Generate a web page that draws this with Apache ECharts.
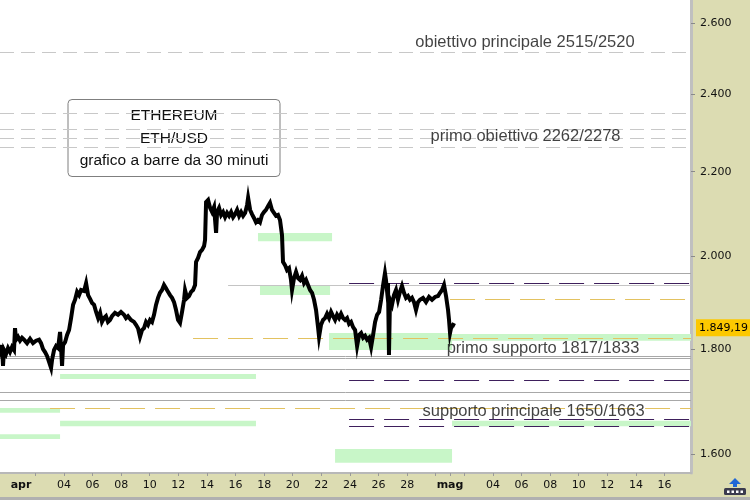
<!DOCTYPE html>
<html><head><meta charset="utf-8">
<script src="https://cdn.jsdelivr.net/npm/echarts@6/dist/echarts.min.js"></script>
<style>html,body{margin:0;padding:0;background:#fff}#c{width:750px;height:500px}</style>
</head><body><div id="c"></div>
<script>
// ---- data (days: 1 = 1 April, 31 = 1 May; prices in USD) ----
const priceDays = [
-0.47,-0.40,-0.33,-0.26,-0.19,-0.05,0.09,0.23,0.37,0.51,
0.58,0.65,0.79,0.93,1.07,1.21,1.42,1.63,1.84,2.05,
2.26,2.40,2.54,2.68,2.82,2.96,3.10,3.17,3.31,3.45,
3.59,3.73,3.80,3.87,3.94,4.08,4.22,4.36,4.50,4.64,
4.78,4.92,5.06,5.20,5.41,5.55,5.69,5.83,5.97,6.11,
6.25,6.39,6.53,6.66,6.80,6.94,7.08,7.22,7.36,7.57,
7.78,7.99,8.20,8.34,8.48,8.69,8.90,9.04,9.18,9.32,
9.46,9.60,9.74,9.88,10.02,10.16,10.30,10.44,10.58,10.72,
10.86,11.00,11.14,11.28,11.42,11.56,11.70,11.84,11.98,12.12,
12.26,12.40,12.47,12.61,12.75,12.89,13.03,13.17,13.24,13.38,
13.52,13.66,13.80,13.87,13.94,14.08,14.22,14.36,14.50,14.64,
14.71,14.85,14.99,15.13,15.27,15.41,15.55,15.69,15.83,15.97,
16.11,16.25,16.39,16.53,16.67,16.81,16.88,17.02,17.15,17.29,
17.43,17.57,17.71,17.85,17.99,18.13,18.27,18.41,18.55,18.69,
18.83,18.97,19.11,19.25,19.32,19.46,19.60,19.74,19.88,19.95,
20.09,20.23,20.37,20.51,20.65,20.79,20.93,21.07,21.21,21.35,
21.49,21.63,21.77,21.84,21.98,22.12,22.26,22.40,22.54,22.68,
22.82,22.96,23.10,23.24,23.38,23.52,23.66,23.80,23.94,24.08,
24.22,24.36,24.50,24.64,24.78,24.92,25.06,25.20,25.34,25.48,
25.62,25.76,25.90,26.04,26.18,26.32,26.45,26.52,26.59,26.66,
26.73,26.80,26.94,27.08,27.22,27.36,27.50,27.64,27.78,27.92,
28.06,28.20,28.34,28.48,28.62,28.76,28.90,29.11,29.32,29.53,
29.74,29.95,30.16,30.30,30.44,30.58,30.72,30.86,30.93,31.00,
31.07,31.21,31.35];
const priceValues = [
1803,1795,1809,1767,1799,1791,1803,1795,1805,1799,
1844,1820,1826,1818,1824,1820,1813,1822,1813,1818,
1820,1813,1801,1795,1787,1775,1763,1779,1799,1807,
1803,1836,1803,1767,1809,1815,1830,1840,1865,1893,
1904,1921,1914,1925,1923,1940,1914,1906,1897,1893,
1878,1865,1876,1857,1865,1869,1857,1861,1869,1876,
1872,1878,1872,1865,1869,1861,1857,1851,1844,1826,
1840,1844,1857,1851,1861,1857,1872,1893,1908,1919,
1925,1936,1929,1921,1914,1908,1899,1882,1861,1855,
1878,1904,1925,1908,1912,1921,1925,1936,1987,1996,
2009,2014,2023,2037,2126,2131,2112,2102,2114,2053,
2102,2112,2095,2102,2090,2100,2093,2102,2090,2097,
2107,2093,2102,2093,2100,2119,2136,2107,2097,2088,
2078,2083,2078,2095,2102,2107,2116,2124,2107,2100,
2093,2095,2083,2048,1987,1980,1969,1973,1947,1925,
1951,1965,1951,1947,1956,1940,1947,1936,1925,1919,
1904,1882,1846,1826,1851,1861,1865,1874,1865,1878,
1869,1861,1872,1865,1874,1865,1861,1865,1853,1857,
1846,1840,1807,1830,1834,1824,1828,1820,1824,1805,
1830,1857,1872,1878,1904,1936,1962,1947,1925,1940,
1789,1904,1893,1914,1925,1904,1921,1934,1919,1908,
1912,1904,1908,1899,1882,1899,1904,1908,1899,1910,
1904,1910,1912,1919,1925,1936,1912,1882,1861,1834,
1844,1851,1849];
const lastPrice = 1849.19;

const dayMin = -0.47, dayMax = 47.85;
const priceMin = 1566, priceMax = 2670;

const yTickValues = [1600, 1800, 2000, 2200, 2400, 2600];
const xLabelDays = [1,4,6,8,10,12,14,16,18,20,22,24,26,28,31,34,36,38,40,42,44,46];
const xTickDays = [2,4,6,8,10,12,14,16,18,20,22,24,26,28,30,31,32,34,36,38,40,42,44,46];

// levels: [price, fromDay, toDay]
const targetLevels  = [[2518,-0.47,47.85],[2350,-0.47,47.85],[2308,-0.47,47.85],[2285,-0.47,47.85],[2262,-0.47,47.85]];
const pivotLevels   = [[1962,26.45,47.85],[1787,-0.47,47.85],[1783,-0.47,47.85],[1761,-0.47,47.85],[1715,-0.47,47.85],[1700,-0.47,47.85]];
const pivotLightLevels = [[1936,15.48,47.85]];
const goldLevels    = [[1904,31.00,47.85],[1824,13.03,47.85],[1685,3.03,47.85]];
const purpleLevels  = [[1940,23.94,47.85],[1739,23.94,47.85],[1663,23.94,47.85],[1650,23.94,47.85]];
// zones: [fromDay, toDay, lowPrice, highPrice]
const greenZones = [
  [17.57,22.75,2034,2053],[17.71,22.61,1914,1934],[22.54,31.14,1799,1834],[31.14,47.85,1818,1832],
  [3.73,17.43,1741,1751],[-0.47,3.73,1676,1685],[3.73,17.43,1651,1661],[-0.47,3.73,1627,1636],
  [22.96,31.14,1584,1609],[31.14,47.85,1651,1661]];

const annotations = [
  ['obiettivo principale 2515/2520', 36.24, 2546],
  ['primo obiettivo 2262/2278', 36.28, 2288],
  ['primo supporto 1817/1833', 37.50, 1803],
  ['supporto principale 1650/1663', 36.84, 1678]];

const titleLines = ['ETHEREUM', 'ETH/USD', 'grafico a barre da 30 minuti'];

// ---- build ----
const L = Math.log;
const fmtThousands = n => { const s = String(n); return s.length > 3 ? s.slice(0, s.length-3) + '.' + s.slice(s.length-3) : s; };
const pad = n => (n < 10 ? '0' : '') + n;
const fmtPrice = v => { const p = v.toFixed(2).split('.'); return fmtThousands(Number(p[0])) + ',' + p[1]; };

function segs(levels) {
  return levels.map(([p, a, b]) => [{coord: [a, L(p)]}, {coord: [b, L(p)]}]);
}
function levelSeries(levels, color, type, width, z) {
  return {
    type: 'line', data: [], z: z, silent: true,
    markLine: { symbol: ['none','none'], silent: true, animation: false,
      label: {show: false}, lineStyle: {color: color, type: type, width: width},
      emphasis: {disabled: true}, data: segs(levels) }
  };
}

const chart = echarts.init(document.getElementById('c'));
const option = {
  animation: false,
  backgroundColor: '#dcdcb2',
  grid: { left: 0, top: 0, right: 59, bottom: 27, show: true, backgroundColor: '#ffffff', borderWidth: 0 },
  xAxis: {
    type: 'value', min: dayMin, max: dayMax, splitLine: {show: false},
    axisLine: {show: true, onZero: false, lineStyle: {color: '#b8b8b8', width: 2}},
    axisTick: {show: true, length: 3, customValues: xTickDays, lineStyle: {color: '#9a9a9a'}},
    axisLabel: {
      customValues: xLabelDays, margin: 7, color: '#111', fontFamily: 'DejaVu Sans', fontSize: 11,
      formatter: v => v === 1 ? '{b|apr}' : v === 31 ? '{b|mag}' : pad(v > 31 ? v - 30 : v),
      rich: { b: {fontWeight: 'bold', fontFamily: 'DejaVu Sans', fontSize: 11, color: '#111'} }
    }
  },
  yAxis: {
    type: 'value', position: 'right', min: L(priceMin), max: L(priceMax), splitLine: {show: false},
    axisLine: {show: true, onZero: false, lineStyle: {color: '#c0c0c0', width: 3}},
    axisTick: {show: true, length: 4, customValues: yTickValues.map(L), lineStyle: {color: '#8a8a8a'}},
    axisLabel: {
      customValues: yTickValues.map(L), margin: 9, color: '#111', fontFamily: 'DejaVu Sans', fontSize: 11,
      formatter: v => fmtThousands(Math.round(Math.exp(v)))
    }
  },
  series: [
    { type: 'line', data: [], z: 1, silent: true,
      markArea: { silent: true, itemStyle: {color: '#c8f6c8'}, label: {show: false},
        data: greenZones.map(([a, b, lo, hi]) => [{coord: [a, L(hi)]}, {coord: [b, L(lo)]}]) } },
    levelSeries(targetLevels, '#c8c8c8', [14, 7], 1, 2),
    levelSeries(pivotLevels, '#a8a8a8', 'solid', 1, 2),
    levelSeries(pivotLightLevels, '#c4c4c4', 'solid', 1, 2),
    levelSeries(goldLevels, '#e3c260', [25, 10], 1, 2),
    levelSeries(purpleLevels, '#3e1f5c', [25, 10], 1.2, 2),
    { type: 'line', z: 5, silent: true, symbol: 'none',
      data: priceDays.map((d, i) => [d, L(priceValues[i])]),
      lineStyle: {color: '#000', width: 4, join: 'miter'},
      markLine: { symbol: ['none','none'], silent: true,
        lineStyle: {color: 'rgba(0,0,0,0)', width: 0},
        label: { show: true, position: 'end', distance: 5, formatter: fmtPrice(lastPrice),
          backgroundColor: '#fcc800', padding: [3, 4, 3, 3], color: '#000',
          fontFamily: 'DejaVu Sans', fontSize: 11 },
        data: [{yAxis: L(lastPrice)}] } },
    { type: 'scatter', z: 6, silent: true, symbolSize: 0,
      data: annotations.map(([t, d, p]) => [d, L(p), t]),
      label: { show: true, position: [0, 0], align: 'center', verticalAlign: 'middle',
        formatter: p => p.value[2], color: '#111', fontFamily: 'Liberation Sans', fontSize: 16.5 } }
  ],
  graphic: [
    { type: 'group', z: 20, children: [
      { type: 'rect', shape: {x: 68, y: 99.5, width: 212, height: 77, r: 4},
        style: {fill: '#fff', stroke: '#7f7f7f', lineWidth: 1} },
      ...titleLines.map((t, i) => ({ type: 'text', x: 174, y: 116 + i * 22.6,
        style: {text: t, align: 'center', verticalAlign: 'middle', fill: '#111',
          font: '15.5px "Liberation Sans"'} }))
    ]},
    { type: 'rect', z: 20, shape: {x: 0, y: 497, width: 750, height: 3}, style: {fill: '#b0b0b0'} },
    { type: 'group', z: 20, x: 724, y: 478, children: [
      { type: 'polygon', shape: {points: [[11,0],[17,6],[13,6],[13,9],[9,9],[9,6],[5,6]]}, style: {fill: '#1f66d6'} },
      { type: 'rect', shape: {x: 0, y: 10, width: 22, height: 7, r: 1.5}, style: {fill: '#3a3a4e'} },
      ...[0,1,2,3].map(k => ({ type: 'rect', shape: {x: 3 + k * 4.5, y: 12.5, width: 2.5, height: 2.5}, style: {fill: '#fff'} }))
    ]}
  ]
};
chart.setOption(option);
</script></body></html>
